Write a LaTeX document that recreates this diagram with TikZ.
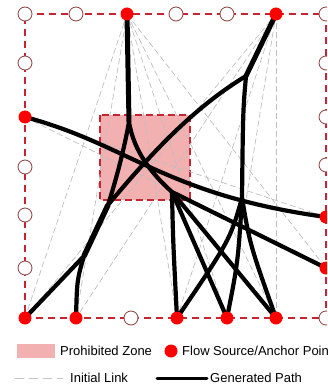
\documentclass[tikz,border=0pt]{standalone}
\usepackage{fontspec}
\setmainfont{Liberation Sans}
\usetikzlibrary{backgrounds}
\definecolor{bianjie}{HTML}{C62430}
\definecolor{quan}{HTML}{8E3B3B}
\definecolor{jinqu}{HTML}{F3B0B0}

\begin{document}
\begin{tikzpicture}[x=1pt,y=-1pt,line cap=round]
	\tikzstyle{kong}=[circle,draw=quan,fill=white,line width=.8pt,minimum size=14pt,inner sep=0pt];
	\tikzstyle{yuan}=[circle,fill=red,minimum size=13pt,inner sep=0pt];
	\tikzstyle{xian}=[gray!50,line width=.7pt,dash pattern=on 6pt off 3pt];
	\tikzstyle{lu}=[black,line width=4.2pt];
	\tikzstyle{wenzi}=[font=\fontsize{13}{15}\selectfont,anchor=west,inner sep=0pt];
	\useasboundingbox (0,0) rectangle (327,387);
	\clip (0,0) rectangle (327,387);
	%% grid points
	\node[kong] (t1) at (25,14)  {};
	\node[kong] (t2) at (76,14)  {};
	\node[yuan] (t3) at (127,14) {};
	\node[kong] (t4) at (176,14) {};
	\node[kong] (t5) at (227,14) {};
	\node[yuan] (t6) at (276,14) {};
	\node[kong] (t7) at (326,14) {};
	\node[kong] (l2) at (25,63)  {};
	\node[yuan] (l3) at (25,117) {};
	\node[kong] (l4) at (25,167) {};
	\node[kong] (l5) at (25,215) {};
	\node[kong] (l6) at (25,268) {};
	\node[yuan] (b1) at (25,318)  {};
	\node[yuan] (b2) at (76,318)  {};
	\node[kong] (b3) at (131,318) {};
	\node[yuan] (b4) at (177,318) {};
	\node[yuan] (b5) at (227,318) {};
	\node[yuan] (b6) at (276,318) {};
	\node[kong] (b7) at (326,318) {};
	\node[kong] (r2) at (326,63)  {};
	\node[kong] (r3) at (326,117) {};
	\node[kong] (r4) at (326,165) {};
	\node[yuan] (r5) at (326,217) {};
	\node[yuan] (r6) at (326,268) {};
	%% branch points
	\coordinate (c1) at (129,122);
	\coordinate (c2) at (108,205);
	\coordinate (c3) at (84,256);
	\coordinate (c4) at (246,76);
	\coordinate (c5) at (242,198);
	\coordinate (c6) at (172,192);
	\begin{scope}[on background layer]
		%% prohibited zone
		\fill[jinqu] (100,115) rectangle (190,200);
		\draw[bianjie,line width=1.3pt,dash pattern=on 7pt off 4pt] (100,115) rectangle (190,200);
		%% initial links
		\draw[xian] (t3.center) -- (b1.center);
		\draw[xian] (t3.center) -- (b2.center);
		\draw[xian] (t3.center) -- (b4.center);
		\draw[xian] (t3.center) -- (b5.center);
		\draw[xian] (t3.center) -- (b6.center);
		\draw[xian] (t3.center) -- (r6.center);
		\draw[xian] (t6.center) -- (b1.center);
		\draw[xian] (t6.center) -- (b2.center);
		\draw[xian] (t6.center) -- (b4.center);
		\draw[xian] (t6.center) -- (b5.center);
		\draw[xian] (t6.center) -- (b6.center);
		\draw[xian] (l3.center) -- (r5.center);
		\draw[xian] (l3.center) -- (r6.center);
		%% generated paths
		\draw[lu,line width=5pt]   (t3.center) -- (c1);
		\draw[lu] (c1) .. controls (124,150) and (116,180) .. (c2);
		\draw[lu] (c1) .. controls (134,152) and (152,174) .. (c6);
		\draw[lu] (c4) .. controls (210,98) and (170,130) .. (c2);
		\draw[lu,line width=5.5pt] (c2) -- (c3);
		\draw[lu] (c3) -- (b1.center);
		\draw[lu] (c3) .. controls (77,280) .. (b2.center);
		\draw[lu,line width=5pt]   (t6.center) -- (c4);
		\draw[lu] (c4) .. controls (243,110) .. (c5);
		\draw[lu] (c5) .. controls (230,240) .. (b4.center);
		\draw[lu] (c5) .. controls (238,262) .. (b5.center);
		\draw[lu] (c5) .. controls (250,245) .. (b6.center);
		\draw[lu] (l3.center) .. controls (130,145) and (165,195) .. (r5.center);
		\draw[lu] (c6) -- (r6.center);
		\draw[lu] (c6) .. controls (173,240) .. (b4.center);
		\draw[lu] (c6) -- (b5.center);
		\draw[lu] (c6) -- (b6.center);
		%% boundary
		\draw[bianjie,line width=1.3pt,dash pattern=on 7pt off 5pt] (t1.center) -- (t7.center) -- (b7.center) -- (b1.center) -- cycle;
	\end{scope}
	%% legend
	\node[fill=jinqu,minimum width=38pt,minimum height=14pt,inner sep=0pt] (k1) at (36,351) {};
	\node[wenzi] (w1) at (60,351) {Prohibited Zone};
	\node[yuan] (k2) at (171,351) {};
	\node[wenzi] (w2) at (182,351) {Flow Source/Anchor Point};
	\coordinate (k3a) at (15,378);
	\coordinate (k3b) at (63,378);
	\draw[gray!45,line width=.8pt,dash pattern=on 9pt off 5pt] (k3a) -- (k3b);
	\node[wenzi] (w3) at (70,378) {Initial Link};
	\coordinate (k4a) at (157,378);
	\coordinate (k4b) at (207,378);
	\draw[black,line width=3pt] (k4a) -- (k4b);
	\node[wenzi] (w4) at (210,378) {Generated Path};
\end{tikzpicture}
\end{document}
